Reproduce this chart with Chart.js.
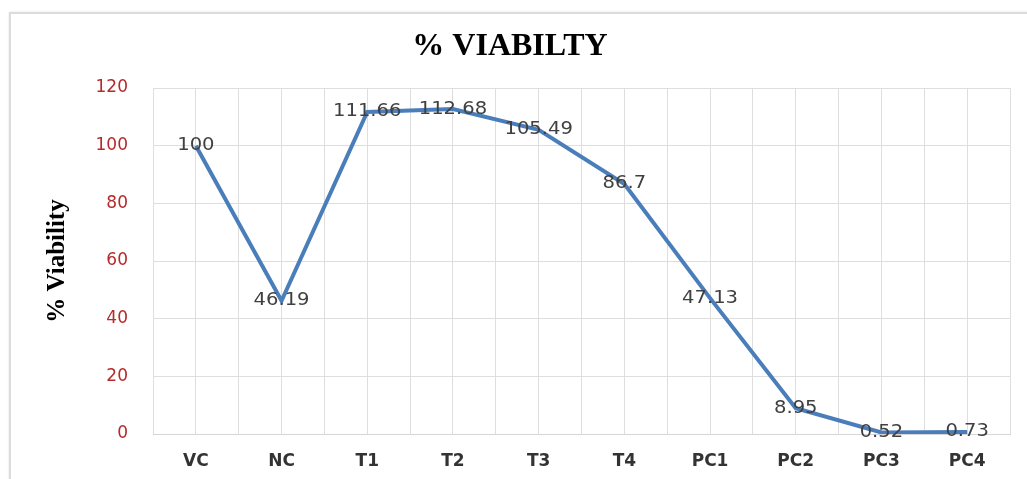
<!DOCTYPE html>
<html>
<head>
<meta charset="utf-8">
<script src="https://cdn.jsdelivr.net/npm/chart.js@4/dist/chart.umd.min.js"></script>
<style>
  html, body { margin: 0; padding: 0; background: #fff; }
  #wrap { position: relative; width: 1027px; height: 479px; overflow: hidden; background: #fff; }
  #frame { position: absolute; left: 9px; top: 12px; width: 1040px; height: 500px;
           border: 2px solid #dcdcdc; box-shadow: 0 0 2px rgba(0,0,0,0.12); background: #fff; }
  #c { position: absolute; left: 0; top: 0; }
</style>
</head>
<body>
<div id="wrap">
  <div id="frame"></div>
  <canvas id="c" width="1027" height="479"></canvas>
</div>
<script>
const categories = ["VC", "NC", "T1", "T2", "T3", "T4", "PC1", "PC2", "PC3", "PC4"];
const viability = [100, 46.19, 111.66, 112.68, 105.49, 86.7, 47.13, 8.95, 0.52, 0.73];
const yTicks = [0, 20, 40, 60, 80, 100, 120];
const chartTitle = "% VIABILTY";
const yTitle = "% Viability";

const gridColor = "#dedede";

const dataLabels = {
  id: "dataLabels",
  afterDatasetsDraw(chart) {
    const ctx = chart.ctx;
    chart.data.datasets.forEach((ds, di) => {
      const meta = chart.getDatasetMeta(di);
      meta.data.forEach((pt, i) => {
        ctx.save();
        ctx.translate(pt.x, pt.y);
        ctx.scale(1.15, 1);
        ctx.font = "17px 'DejaVu Sans'";
        ctx.fillStyle = "#404040";
        ctx.textAlign = "center";
        ctx.textBaseline = "middle";
        ctx.fillText(String(ds.data[i]), 0, 0);
        ctx.restore();
      });
    });
  }
};

new Chart(document.getElementById("c"), {
  type: "line",
  data: {
    labels: categories,
    datasets: [{
      data: viability,
      borderColor: "#4a7ebb",
      backgroundColor: "#4a7ebb",
      borderWidth: 4,
      pointRadius: 0,
      tension: 0,
      fill: false
    }]
  },
  options: {
    responsive: false,
    maintainAspectRatio: false,
    devicePixelRatio: 1,
    animation: false,
    layout: { padding: { left: 10, right: 17, top: 0, bottom: 0 } },
    plugins: {
      legend: { display: false },
      tooltip: { enabled: false },
      title: {
        display: true,
        text: chartTitle,
        color: "#000",
        font: { family: "'Liberation Serif'", size: 32, weight: "bold" },
        padding: { top: 28, bottom: 21.6 }
      }
    },
    scales: {
      x: {
        type: "category",
        offset: true,
        grid: { offset: false, color: gridColor, drawTicks: false },
        border: { display: true, color: "#d6d6d6" },
        ticks: {
          color: "#333333",
          font: { family: "'DejaVu Sans'", size: 17, weight: "bold" },
          padding: 17,
          maxRotation: 0
        },
        afterFit: s => { s.height = 45; }
      },
      x2: {
        type: "category",
        axis: "x",
        position: "bottom",
        labels: categories,
        offset: true,
        grid: { offset: true, color: gridColor, drawTicks: false },
        border: { display: false },
        ticks: { display: false },
        afterFit: s => { s.height = 0; }
      },
      y: {
        min: 0,
        max: 120,
        afterBuildTicks: s => { s.ticks = yTicks.map(v => ({ value: v })); },
        grid: { color: gridColor, drawTicks: false },
        border: { display: false },
        ticks: {
          color: "#b52a2a",
          font: { family: "'DejaVu Sans'", size: 17 },
          padding: 25
        },
        title: {
          display: true,
          text: yTitle,
          color: "#000",
          font: { family: "'Liberation Serif'", size: 25, weight: "bold" },
          padding: { top: 33, bottom: 0 }
        },
        afterFit: s => { s.width = 143; }
      }
    }
  },
  plugins: [dataLabels]
});
</script>
</body>
</html>
